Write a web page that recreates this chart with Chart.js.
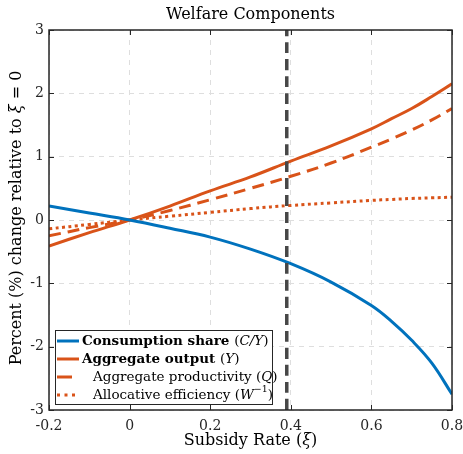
<!DOCTYPE html>
<html>
<head>
<meta charset="utf-8">
<script src="https://cdn.jsdelivr.net/npm/chart.js@4.4.0/dist/chart.umd.min.js"></script>
<style>
  html, body { margin: 0; padding: 0; background: #fff; }
  #wrap { width: 463px; height: 454px; }
</style>
</head>
<body>
<div id="wrap"><canvas id="welfare"></canvas></div>
<script>
// subsidy rate grid and series (percent change relative to xi = 0)
const xi = [-0.2, -0.1, 0, 0.1, 0.2, 0.3, 0.4, 0.5, 0.6, 0.65, 0.7, 0.75, 0.8];
const consumptionShare = [0.22, 0.11, 0, -0.13, -0.27, -0.46, -0.69, -0.98, -1.35, -1.6, -1.9, -2.26, -2.75];
const aggregateOutput = [-0.41, -0.2, 0, 0.22, 0.46, 0.68, 0.93, 1.17, 1.44, 1.6, 1.76, 1.95, 2.15];
const aggregateProductivity = [-0.25, -0.12, 0, 0.15, 0.32, 0.5, 0.69, 0.9, 1.15, 1.28, 1.42, 1.58, 1.76];
const allocativeEfficiency = [-0.14, -0.07, 0, 0.06, 0.12, 0.18, 0.23, 0.27, 0.31, 0.325, 0.34, 0.35, 0.36];
const optimalXi = 0.39;
const yRange = [-3, 3];

const SERIF = '"DejaVu Serif", "Liberation Serif", serif';
const BLUE = '#0072BD';
const ORANGE = '#D95319';

const pts = ys => xi.map((x, i) => ({ x: x, y: ys[i] }));

function fontFor(style, size) {
  if (style === 'b') return 'bold ' + size + 'px ' + SERIF;
  if (style === 'i') return 'italic ' + size + 'px ' + SERIF;
  return size + 'px ' + SERIF;
}

// mixed-style text runs, x is the left edge
function richWidth(ctx, segs, size) {
  let w = 0;
  segs.forEach(s => {
    ctx.font = fontFor(s.st, s.sup ? size * 0.7 : size);
    w += ctx.measureText(s.t).width;
  });
  return w;
}
function drawRich(ctx, segs, x, y, size) {
  segs.forEach(s => {
    ctx.font = fontFor(s.st, s.sup ? size * 0.7 : size);
    ctx.fillText(s.t, x, s.sup ? y - size * 0.4 : y);
    x += ctx.measureText(s.t).width;
  });
}

const legendItems = [
  { color: BLUE, dash: [], segs: [{ t: 'Consumption share ', st: 'b' }, { t: '(', st: 'n' }, { t: 'C/Y', st: 'i' }, { t: ')', st: 'n' }], indent: 0 },
  { color: ORANGE, dash: [], segs: [{ t: 'Aggregate output ', st: 'b' }, { t: '(', st: 'n' }, { t: 'Y', st: 'i' }, { t: ')', st: 'n' }], indent: 0 },
  { color: ORANGE, dash: [15, 10], segs: [{ t: 'Aggregate productivity (', st: 'n' }, { t: 'Q', st: 'i' }, { t: ')', st: 'n' }], indent: 11 },
  { color: ORANGE, dash: [3, 4.5], segs: [{ t: 'Allocative efficiency (', st: 'n' }, { t: 'W', st: 'i' }, { t: '\u22121', st: 'n', sup: true }, { t: ')', st: 'n' }], indent: 11 }
];

const decorations = {
  id: 'decorations',
  afterDatasetsDraw(chart) {
    const ctx = chart.ctx;
    const a = chart.chartArea;
    const sx = chart.scales.x, sy = chart.scales.y;
    ctx.save();
    // inward ticks on all four sides
    ctx.strokeStyle = '#262626';
    ctx.lineWidth = 1;
    ctx.beginPath();
    sx.ticks.forEach(t => {
      const px = Math.round(sx.getPixelForValue(t.value)) + 0.5;
      ctx.moveTo(px, a.bottom); ctx.lineTo(px, a.bottom - 5);
      ctx.moveTo(px, a.top); ctx.lineTo(px, a.top + 5);
    });
    sy.ticks.forEach(t => {
      const py = Math.round(sy.getPixelForValue(t.value)) + 0.5;
      ctx.moveTo(a.left, py); ctx.lineTo(a.left + 5, py);
      ctx.moveTo(a.right, py); ctx.lineTo(a.right - 5, py);
    });
    ctx.stroke();
    // axes box
    ctx.lineWidth = 1.5;
    ctx.strokeRect(a.left, a.top, a.right - a.left, a.bottom - a.top);

    // legend box, lower left
    const lx = 55, ly = 330, lw = 217, lh = 74;
    ctx.fillStyle = '#fff';
    ctx.fillRect(lx, ly, lw, lh);
    ctx.strokeStyle = '#262626';
    ctx.lineWidth = 1;
    ctx.strokeRect(lx + 0.5, ly + 0.5, lw, lh);
    ctx.textBaseline = 'middle';
    legendItems.forEach((it, i) => {
      const y = ly + 11 + i * 18;
      ctx.strokeStyle = it.color;
      ctx.lineWidth = 3;
      ctx.setLineDash(it.dash);
      ctx.beginPath();
      ctx.moveTo(lx + 2, y); ctx.lineTo(lx + 24, y);
      ctx.stroke();
      ctx.setLineDash([]);
      ctx.fillStyle = '#000';
      drawRich(ctx, it.segs, lx + 27 + it.indent, y, 13.5);
    });

    // title
    ctx.fillStyle = '#000';
    ctx.font = fontFor('n', 16);
    ctx.textAlign = 'center';
    ctx.fillText('Welfare Components', (a.left + a.right) / 2, 15);
    ctx.textAlign = 'left';

    // x axis title
    const xt = [{ t: 'Subsidy Rate (', st: 'n' }, { t: '\u03BE', st: 'i' }, { t: ')', st: 'n' }];
    const xw = richWidth(ctx, xt, 16);
    drawRich(ctx, xt, (a.left + a.right) / 2 - xw / 2, 441, 16);

    // y axis title, rotated
    const yt = [{ t: 'Percent (%) change relative to ', st: 'n' }, { t: '\u03BE', st: 'i' }, { t: ' = 0', st: 'n' }];
    const yw = richWidth(ctx, yt, 16);
    ctx.translate(17, 218);
    ctx.rotate(-Math.PI / 2);
    drawRich(ctx, yt, -yw / 2, 0, 16);
    ctx.restore();
  }
};

new Chart(document.getElementById('welfare'), {
  type: 'line',
  data: {
    datasets: [
      { data: [{ x: optimalXi, y: yRange[0] }, { x: optimalXi, y: yRange[1] }], borderColor: '#474747', borderWidth: 3.5, borderDash: [11, 6], order: 0 },
      { data: pts(consumptionShare), borderColor: BLUE, borderWidth: 3, order: 1 },
      { data: pts(aggregateOutput), borderColor: ORANGE, borderWidth: 3, order: 2 },
      { data: pts(aggregateProductivity), borderColor: ORANGE, borderWidth: 3, borderDash: [12, 7], order: 3 },
      { data: pts(allocativeEfficiency), borderColor: ORANGE, borderWidth: 3, borderDash: [3, 3.5], borderCapStyle: 'butt', order: 4 }
    ]
  },
  plugins: [decorations],
  options: {
    responsive: true,
    maintainAspectRatio: false,
    animation: false,
    layout: { padding: { top: 30, right: 11, left: 0, bottom: 0 } },
    elements: { point: { radius: 0 }, line: { tension: 0.4, fill: false } },
    plugins: { legend: { display: false }, tooltip: { enabled: false } },
    scales: {
      x: {
        type: 'linear', min: -0.2, max: 0.8,
        afterFit: s => { s.height = 44; s.paddingLeft = 0; s.paddingRight = 0; },
        grid: { color: '#dedede', drawTicks: false },
        border: { display: false, dash: [5, 5] },
        ticks: { stepSize: 0.2, padding: 8, color: '#262626', font: { family: SERIF, size: 14 }, maxRotation: 0,
          callback: v => String(Math.round(v * 10) / 10) }
      },
      y: {
        min: yRange[0], max: yRange[1],
        afterFit: s => { s.width = 49; s.paddingTop = 0; s.paddingBottom = 0; },
        grid: { color: '#dedede', drawTicks: false },
        border: { display: false, dash: [5, 5] },
        ticks: { stepSize: 1, padding: 5, color: '#262626', font: { family: SERIF, size: 14 } }
      }
    }
  }
});
</script>
</body>
</html>
